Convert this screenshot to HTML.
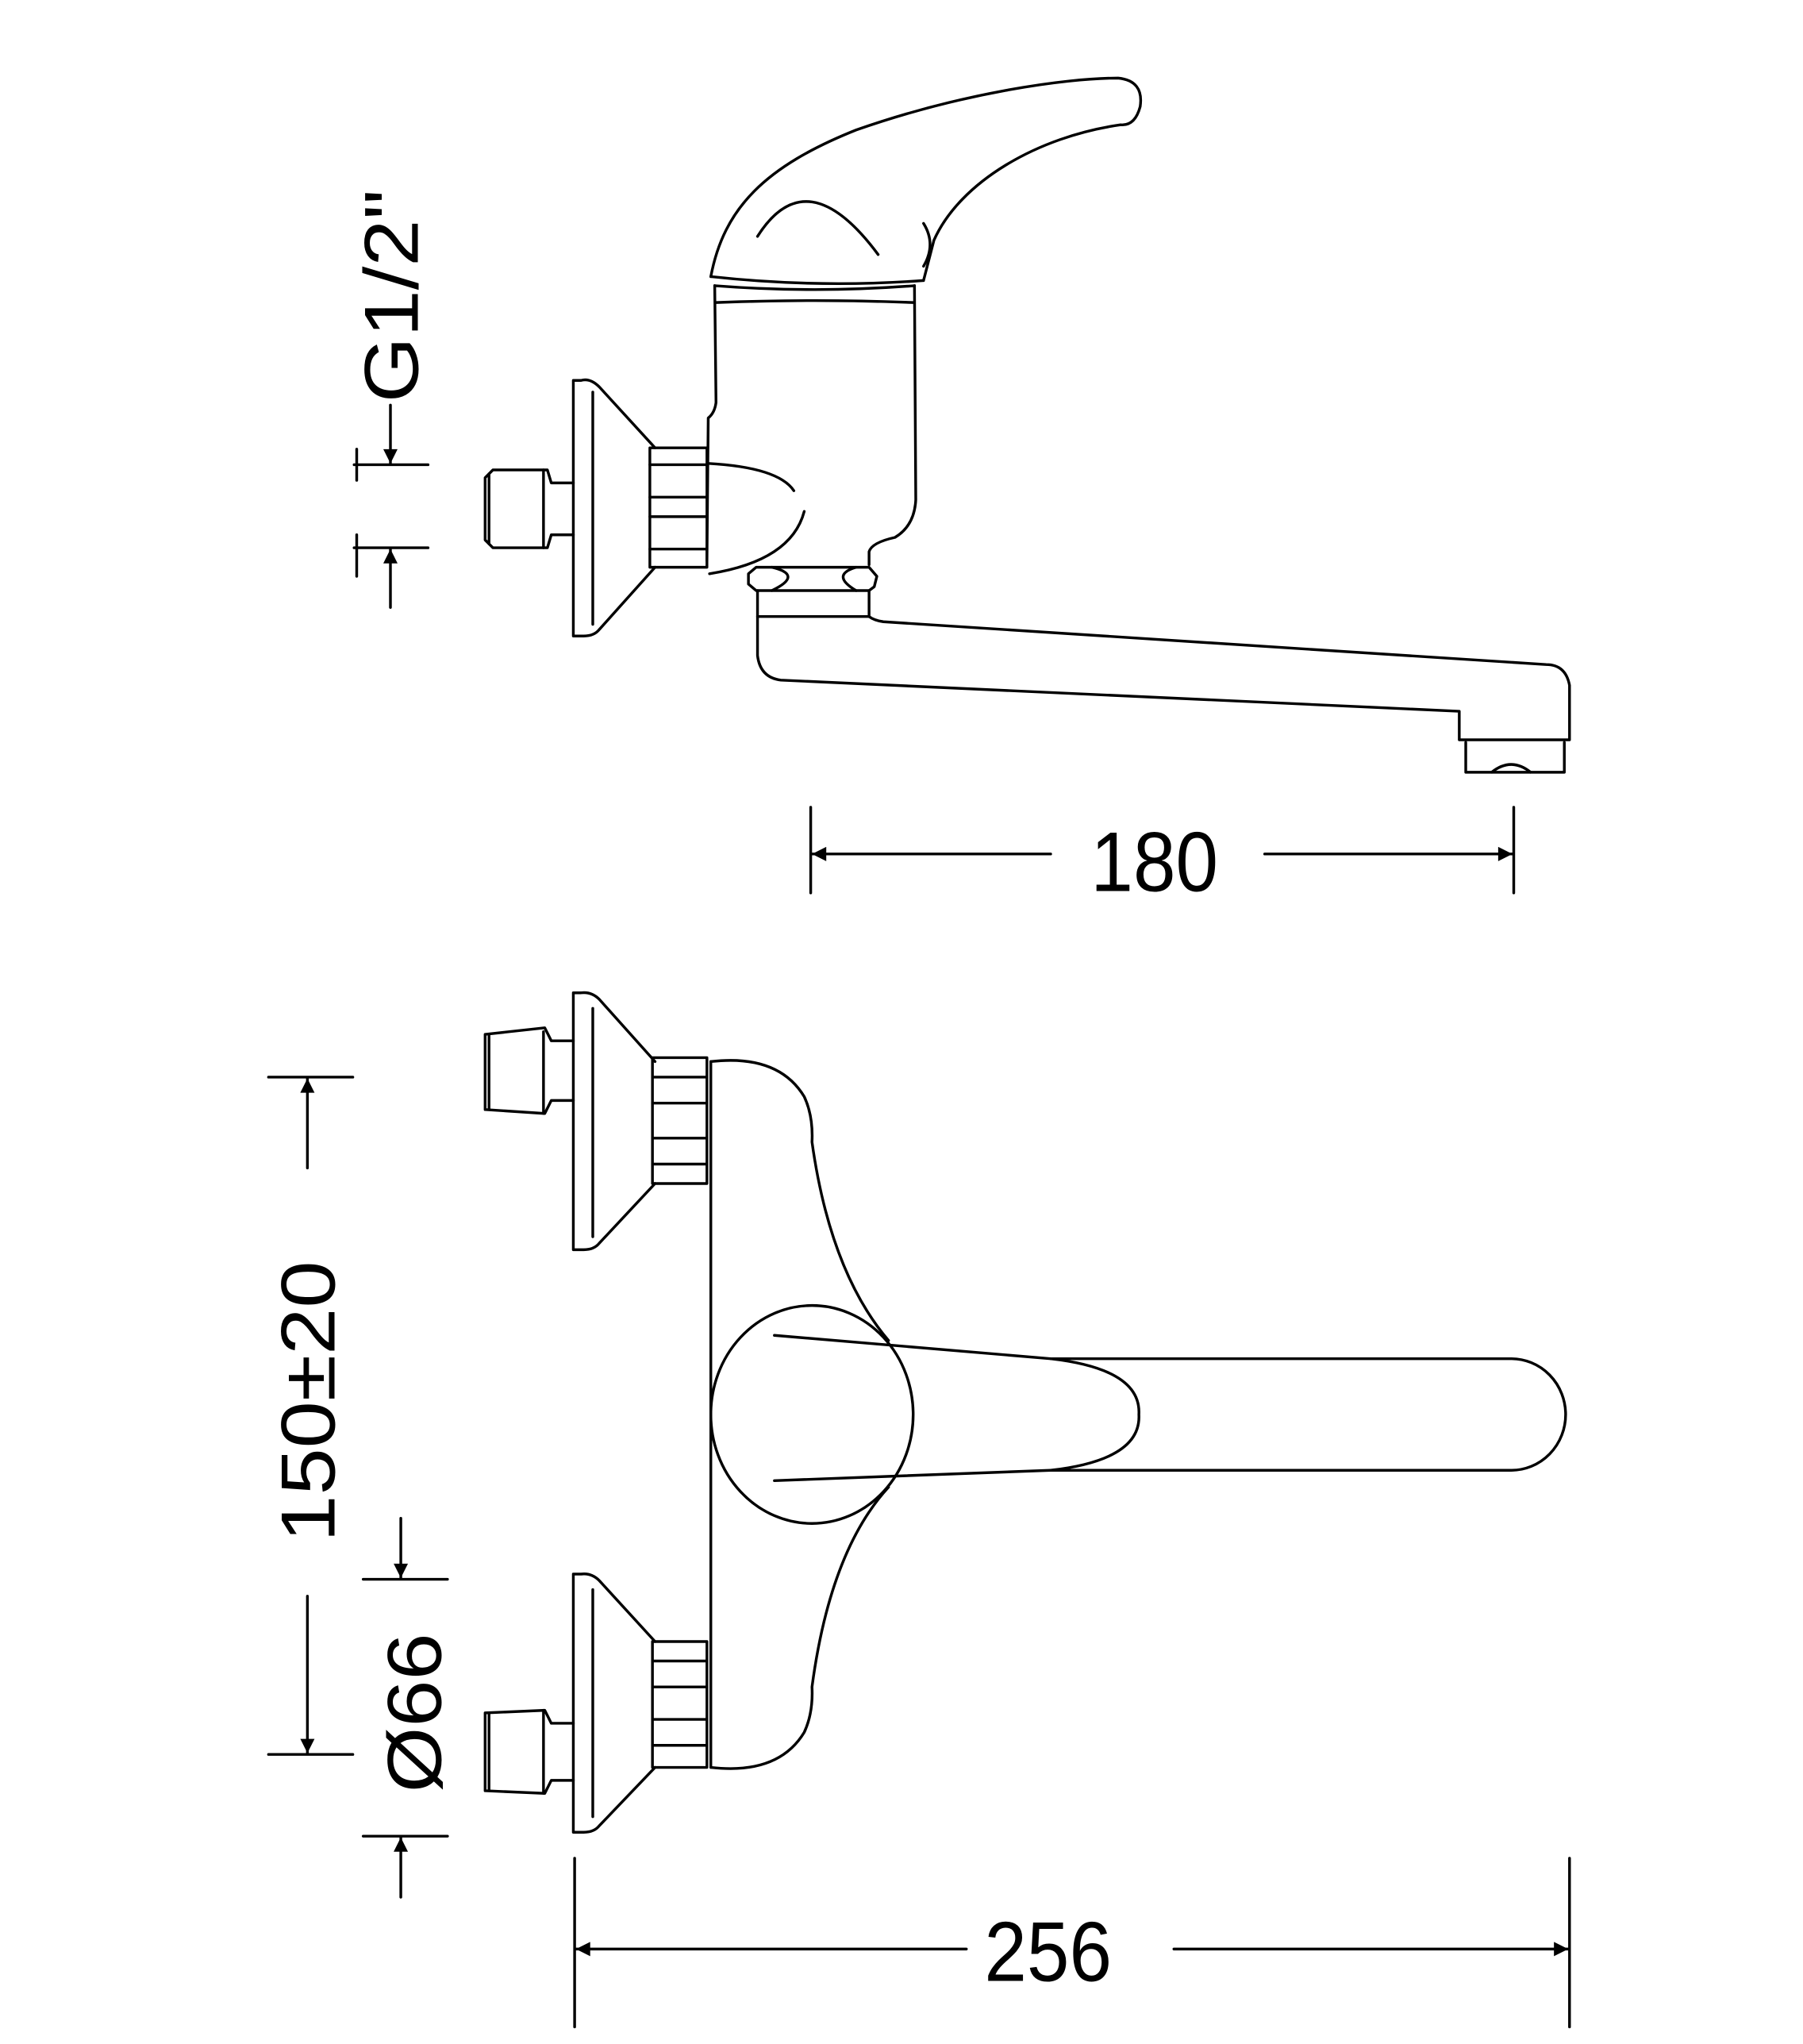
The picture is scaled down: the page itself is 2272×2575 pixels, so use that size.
<!DOCTYPE html>
<html><head><meta charset="utf-8"><style>html,body{margin:0;padding:0;background:#fff}svg{display:block}</style></head>
<body>
<svg width="2272" height="2575" viewBox="0 0 1390 1575" xmlns="http://www.w3.org/2000/svg">
<defs>
<marker id="a" viewBox="0 0 10 10" refX="10" refY="5" markerWidth="30" markerHeight="11" markerUnits="userSpaceOnUse" orient="auto"><path d="M0,0 L10,5 L0,10 Z" fill="#000"/></marker>
</defs>
<g fill="none" stroke="#000" stroke-width="2.1" stroke-linejoin="round" stroke-linecap="round">
<!-- ===== TOP VIEW ===== -->
<path d="M548,213 C558,160 590,128 660,100 C740,72 820,60 862,60 Q882,62 879,82 Q875,97 864,96 C800,105 740,140 720,185 L712,216"/>
<path d="M548,213 Q630,222 712,216"/>
<path d="M584,182 Q622,122 677,196"/>
<path d="M712,172 Q722,188 712,205"/>
<path d="M551,220 Q628,226 705,220"/>
<path d="M552,233 Q628,230 704,233"/>
<path d="M551,220 L552,310 Q551,318 546,322 L545,432"/>
<path d="M705,220 L706,385 Q705,405 690,414 Q672,418 670,425 L670,435"/>
<path d="M546,357 Q600,360 612,378"/>
<path d="M620,394 Q610,432 547,442"/>
<rect x="501" y="345" width="44" height="92"/>
<line x1="501" y1="358" x2="545" y2="358"/>
<line x1="501" y1="383" x2="545" y2="383"/>
<line x1="501" y1="398" x2="545" y2="398"/>
<line x1="501" y1="423" x2="545" y2="423"/>
<path d="M505,345 L462,298 Q455,291 448,293 L442,293 L442,490 L450,490 Q458,490 462,485 L505,437"/>
<line x1="457" y1="302" x2="457" y2="481"/>
<path d="M442,372 L425,372 L422,362 L380,362 L374,368 L374,416 L380,422 L422,422 L425,412 L442,412"/>
<line x1="377" y1="365" x2="377" y2="419"/>
<line x1="419" y1="362" x2="419" y2="422"/>
<path d="M583,437 L670,437 L676,444 L674,452 L670,455 L583,455 L577,450 L577,442 Z"/>
<path d="M595,437 Q620,443 595,455 M660,437 Q640,443 660,455"/>
<path d="M584,455 L584,475 L670,475 L670,455"/>
<path d="M584,475 L584,505 Q586,522 602,524 L1125,548 L1125,570 L1210,570 L1210,528 Q1207,512 1192,512 L681,479 Q674,478 670,475"/>
<path d="M1130,572 L1130,595 L1206,595 L1206,572"/>
<path d="M1150,595 Q1165,583 1180,595"/>
<line x1="273" y1="358" x2="330" y2="358"/>
<line x1="273" y1="422" x2="330" y2="422"/>
<line x1="275" y1="346" x2="275" y2="370"/>
<line x1="275" y1="412" x2="275" y2="444"/>
<line x1="301" y1="312" x2="301" y2="357" marker-end="url(#a)"/>
<line x1="301" y1="468" x2="301" y2="423" marker-end="url(#a)"/>
<line x1="625" y1="622" x2="625" y2="688"/>
<line x1="1167" y1="622" x2="1167" y2="688"/>
<line x1="810" y1="658" x2="626" y2="658" marker-end="url(#a)"/>
<line x1="975" y1="658" x2="1166" y2="658" marker-end="url(#a)"/>

<!-- ===== BOTTOM VIEW ===== -->
<path d="M505,818 L462,770 Q456,764 448,765 L442,765 L442,963 L450,963 Q458,963 462,958 L505,912"/>
<line x1="457" y1="777" x2="457" y2="953"/>
<path d="M442,802 L425,802 L420,792 L374,797 L374,855 L420,858 L425,848 L442,848"/>
<line x1="377" y1="798" x2="377" y2="855"/>
<line x1="419" y1="795" x2="419" y2="858"/>
<rect x="503" y="815" width="42" height="97"/>
<line x1="503" y1="830" x2="545" y2="830"/>
<line x1="503" y1="850" x2="545" y2="850"/>
<line x1="503" y1="877" x2="545" y2="877"/>
<line x1="503" y1="897" x2="545" y2="897"/>
<path d="M505,1265 L462,1218 Q456,1212 448,1213 L442,1213 L442,1412 L450,1412 Q458,1412 462,1407 L505,1362"/>
<line x1="457" y1="1225" x2="457" y2="1400"/>
<path d="M442,1328 L425,1328 L420,1318 L374,1320 L374,1380 L420,1382 L425,1372 L442,1372"/>
<line x1="377" y1="1321" x2="377" y2="1379"/>
<line x1="419" y1="1318" x2="419" y2="1382"/>
<rect x="503" y="1265" width="42" height="97"/>
<line x1="503" y1="1280" x2="545" y2="1280"/>
<line x1="503" y1="1300" x2="545" y2="1300"/>
<line x1="503" y1="1325" x2="545" y2="1325"/>
<line x1="503" y1="1345" x2="545" y2="1345"/>
<line x1="548" y1="818" x2="548" y2="1362"/>
<path d="M548,818 Q600,812 620,845 Q627,860 626,880 Q640,980 685,1033"/>
<path d="M548,1362 Q600,1368 620,1335 Q627,1320 626,1300 Q640,1195 685,1146"/>
<ellipse cx="626" cy="1090" rx="78" ry="84"/>
<path d="M597,1029 L810,1047 L1165,1047 A42,43 0 0 1 1165,1133 L810,1133 L597,1141"/>
<path d="M810,1047 Q880,1055 878,1090 Q880,1125 810,1133"/>
<line x1="207" y1="830" x2="272" y2="830"/>
<line x1="207" y1="1352" x2="272" y2="1352"/>
<line x1="237" y1="900" x2="237" y2="831" marker-end="url(#a)"/>
<line x1="237" y1="1230" x2="237" y2="1351" marker-end="url(#a)"/>
<line x1="280" y1="1217" x2="345" y2="1217"/>
<line x1="280" y1="1415" x2="345" y2="1415"/>
<line x1="309" y1="1170" x2="309" y2="1216" marker-end="url(#a)"/>
<line x1="309" y1="1462" x2="309" y2="1416" marker-end="url(#a)"/>
<line x1="443" y1="1432" x2="443" y2="1562"/>
<line x1="1210" y1="1432" x2="1210" y2="1562"/>
<line x1="745" y1="1502" x2="444" y2="1502" marker-end="url(#a)"/>
<line x1="905" y1="1502" x2="1209" y2="1502" marker-end="url(#a)"/>
</g>
<g font-family="Liberation Sans, sans-serif" font-size="62" fill="#000" text-anchor="middle">
<text x="890" y="686" transform="translate(890,0) scale(0.95,1.05) translate(-890,-32)">180</text>
<text x="808" y="1526" transform="translate(808,0) scale(0.95,1.05) translate(-808,-72)">256</text>
<text transform="translate(322,228) rotate(-90) scale(1.05,0.95)">G1/2"</text>
<text transform="translate(258,1080) rotate(-90) scale(1.05,0.95)">150±20</text>
<text transform="translate(340,1320) rotate(-90) scale(1.05,0.95)">Ø66</text>
</g>
</svg>
</body></html>
